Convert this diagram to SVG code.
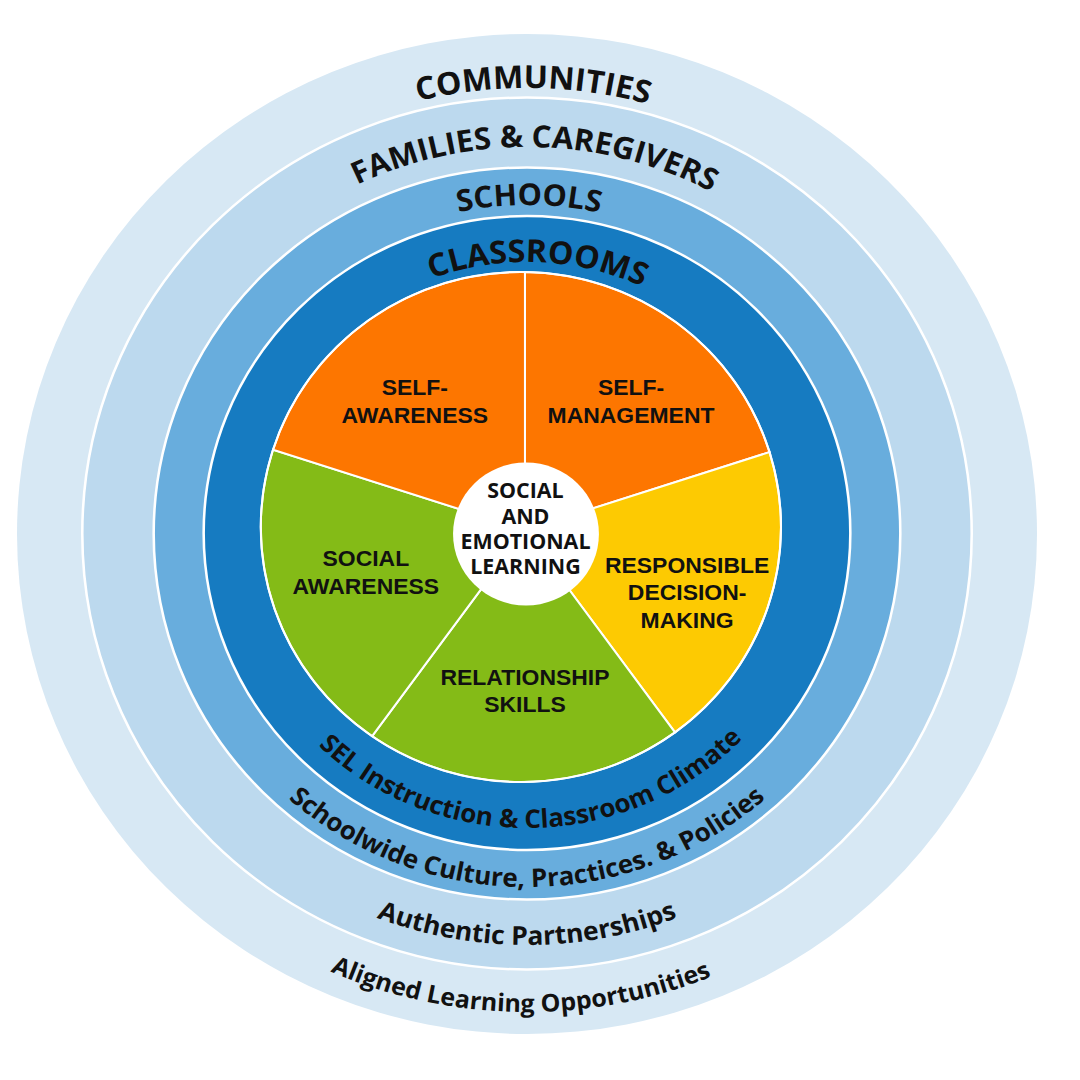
<svg xmlns="http://www.w3.org/2000/svg" xmlns:xlink="http://www.w3.org/1999/xlink" width="1080" height="1080" viewBox="0 0 1080 1080">
<style>
.ring{stroke:#ffffff;stroke-width:2.5}
.sector{stroke:#ffffff;stroke-width:2}
.arc{font-family:"Open Sans","DejaVu Sans",sans-serif;font-weight:700;fill:#111111}
.lbl{font-family:"Liberation Sans",Arial,sans-serif;font-weight:700;font-size:22.5px;fill:#111111;text-anchor:middle}
.ctr{font-family:"Open Sans","DejaVu Sans",sans-serif;font-weight:700;font-size:21px;fill:#111111;text-anchor:middle}
</style>
<defs>
<path id="pTop445" d="M 82 533 A 445 445 0 0 1 972 533"/>
<path id="pTop386" d="M 141 533 A 386 386 0 0 1 913 533"/>
<path id="pTop328" d="M 199 533 A 328 328 0 0 1 855 533"/>
<path id="pTop271" d="M 256 533 A 271 271 0 0 1 798 533"/>
<path id="pBot295" d="M 232 533 A 295 295 0 0 0 822 533"/>
<path id="pBot354" d="M 173 533 A 354 354 0 0 0 881 533"/>
<path id="pBot412" d="M 115 533 A 412 412 0 0 0 939 533"/>
<path id="pBot479" d="M 48 533 A 479 479 0 0 0 1006 533"/>
</defs>
<rect width="1080" height="1080" fill="#ffffff"/>
<g transform="matrix(1.02 0 0 1 -10.54 0)">
  <g id="communities">
    <circle cx="527" cy="534" r="500" fill="#d7e8f4"/>
  </g>
  <g id="families">
    <circle class="ring" cx="527" cy="533.5" r="436" fill="#bcd9ee"/>
  </g>
  <g id="schools">
    <circle class="ring" cx="527" cy="533.5" r="366" fill="#68addd"/>
  </g>
  <g id="classrooms">
    <circle class="ring" cx="527" cy="533" r="317" fill="#167bc1"/>
  </g>
  <g id="self-management">
    <path class="sector" d="M 525 530 L 525 272 A 255 255 0 0 1 764.8 452.1 Z" fill="#fd7600"/>
    <text class="lbl" x="629" y="395">SELF-</text>
    <text class="lbl" x="629" y="423">MANAGEMENT</text>
  </g>
  <g id="responsible-decision-making">
    <path class="sector" d="M 525 530 L 764.8 452.1 A 255 255 0 0 1 672.1 732.4 Z" fill="#fdca02"/>
    <text class="lbl" x="684" y="573">RESPONSIBLE</text>
    <text class="lbl" x="684" y="600">DECISION-</text>
    <text class="lbl" x="684" y="628">MAKING</text>
  </g>
  <g id="relationship-skills">
    <path class="sector" d="M 525 530 L 672.1 732.4 A 255 255 0 0 1 375.2 736.2 Z" fill="#84bb17"/>
    <text class="lbl" x="525" y="685">RELATIONSHIP</text>
    <text class="lbl" x="525" y="712">SKILLS</text>
  </g>
  <g id="social-awareness">
    <path class="sector" d="M 525 530 L 375.2 736.2 A 255 255 0 0 1 278 449.7 Z" fill="#84bb17"/>
    <text class="lbl" x="369" y="566">SOCIAL</text>
    <text class="lbl" x="369" y="594">AWARENESS</text>
  </g>
  <g id="self-awareness">
    <path class="sector" d="M 525 530 L 278 449.7 A 255 255 0 0 1 525 272 Z" fill="#fd7600"/>
    <text class="lbl" x="417" y="395">SELF-</text>
    <text class="lbl" x="417" y="423">AWARENESS</text>
  </g>
  <circle cx="521" cy="527" r="255" fill="none" stroke="#ffffff" stroke-width="2"/>
  <g id="sel-center">
    <circle cx="526" cy="534" r="71.5" fill="#ffffff"/>
    <text class="ctr" x="525.5" y="498">SOCIAL</text>
    <text class="ctr" x="525.5" y="524">AND</text>
    <text class="ctr" x="525.5" y="549">EMOTIONAL</text>
    <text class="ctr" x="525.5" y="574">LEARNING</text>
  </g>
  <g id="ring-labels">
    <text class="arc" font-size="31.5" text-anchor="middle"><textPath xlink:href="#pTop445" href="#pTop445" startOffset="705">COMMUNITIES</textPath></text>
    <text class="arc" font-size="30.5" text-anchor="middle"><textPath xlink:href="#pTop386" href="#pTop386" startOffset="614">FAMILIES &amp; CAREGIVERS</textPath></text>
    <text class="arc" font-size="30" text-anchor="middle"><textPath xlink:href="#pTop328" href="#pTop328" startOffset="517">SCHOOLS</textPath></text>
    <text class="arc" font-size="31.5" text-anchor="middle"><textPath xlink:href="#pTop271" href="#pTop271" startOffset="436">CLASSROOMS</textPath></text>
    <text class="arc" font-size="25.5" text-anchor="middle"><textPath xlink:href="#pBot295" href="#pBot295" startOffset="468">SEL Instruction &amp; Classroom Climate</textPath></text>
    <text class="arc" font-size="25.5" text-anchor="middle"><textPath xlink:href="#pBot354" href="#pBot354" startOffset="556">Schoolwide Culture, Practices. &amp; Policies</textPath></text>
    <text class="arc" font-size="26" text-anchor="middle"><textPath xlink:href="#pBot412" href="#pBot412" startOffset="647">Authentic Partnerships</textPath></text>
    <text class="arc" font-size="24.5" text-anchor="middle"><textPath xlink:href="#pBot479" href="#pBot479" startOffset="746">Aligned Learning Opportunities</textPath></text>
  </g>
</g>
</svg>
